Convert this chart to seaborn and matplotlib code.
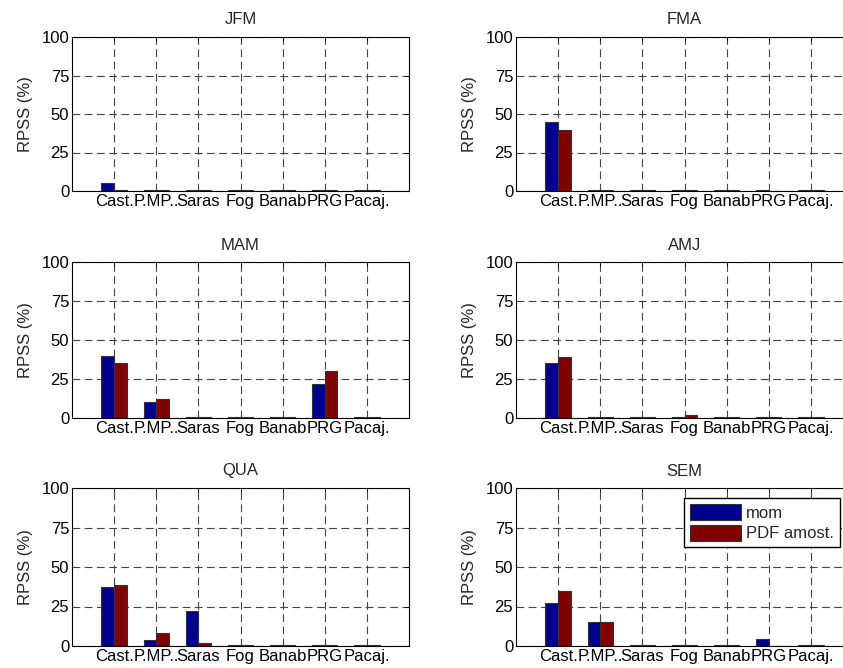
import pandas as pd
import matplotlib
matplotlib.use("Agg")
import matplotlib.pyplot as plt
import seaborn as sns

# estações e os dois métodos comparados
stations = ["Cast.", "P.MP..", "Saras", "Fog", "Banab", "PRG", "Pacaj."]
methods = ["mom", "PDF amost."]
periods = ["JFM", "FMA", "MAM", "AMJ", "QUA", "SEM"]

# RPSS (%)
rpss_mom = {
    "JFM": [5, 0.5, 0.5, 0.5, 0.5, 0.5, 0.5],
    "FMA": [45, 0.5, 0.5, 0.5, 0.5, 0.5, 0.5],
    "MAM": [40, 10, 0.5, 0.5, 0.5, 22, 0.5],
    "AMJ": [35.5, 0.5, 0.5, 0.5, 0.5, 0.5, 0.5],
    "QUA": [37.5, 3.5, 22, 0.5, 0.5, 0.5, 0.5],
    "SEM": [27, 15, 0.5, 0.5, 0.5, 4.5, 0.5],
}
rpss_pdf = {
    "JFM": [0.5, 0.5, 0.5, 0.5, 0.5, 0.5, 0.5],
    "FMA": [39.5, 0.5, 0.5, 0.5, 0.5, 0, 0.5],
    "MAM": [35.5, 12, 0.5, 0.5, 0.5, 30, 0.5],
    "AMJ": [39, 0.5, 0.5, 2, 0.5, 0.5, 0.5],
    "QUA": [38.5, 8.5, 2, 0.5, 0.5, 0.5, 0.5],
    "SEM": [35, 15, 0.5, 0.5, 0.5, 0, 0.5],
}
yticks = [0, 25, 50, 75, 100]

sns.set_theme(style="white")
plt.rcParams["font.family"] = ["Liberation Sans", "DejaVu Sans"]

W, H = 843, 668
fig = plt.figure(figsize=(W / 100, H / 100), dpi=100)

# posições dos eixos em pixels: (esquerda, topo, largura, altura)
lefts = [72, 516]
tops = [(37, 154), (262, 156), (488, 158)]

palette = {"mom": "#00008f", "PDF amost.": "#800000"}
fs = 12

for i, per in enumerate(periods):
    row, col = divmod(i, 2)
    top, hgt = tops[row]
    ax = fig.add_axes([lefts[col] / W, 1 - (top + hgt) / H, 337 / W, hgt / H])

    df = pd.DataFrame({
        "station": stations * 2,
        "RPSS": rpss_mom[per] + rpss_pdf[per],
        "method": [methods[0]] * len(stations) + [methods[1]] * len(stations),
    })
    sns.barplot(data=df, x="station", y="RPSS", hue="method", order=stations,
                hue_order=methods, palette=palette, width=0.6, saturation=1,
                edgecolor="#333333", linewidth=0.8, legend=(per == "SEM"), ax=ax)

    ax.set_xlim(-1, 7)
    ax.set_ylim(0, 100)
    ax.set_yticks(yticks)
    ax.set_title(per, fontsize=fs, pad=9)
    ax.set_xlabel("")
    ax.set_ylabel("RPSS (%)", fontsize=fs, labelpad=6)
    ax.set_axisbelow(True)
    ax.grid(True, axis="both", color="#444444", linestyle=(0, (7, 4)), linewidth=0.8)
    ax.tick_params(axis="both", direction="in", length=3, width=0.6, labelsize=fs,
                   colors="black", top=True, right=True, pad=2)
    for s in ax.spines.values():
        s.set_color("black")
        s.set_linewidth(0.8)

    if per == "SEM":
        sns.move_legend(ax, "upper right", bbox_to_anchor=(840 / W, 1 - 498 / H),
                        bbox_transform=fig.transFigure, title=None, frameon=True,
                        fontsize=fs, handlelength=3.1, handleheight=1.1,
                        handletextpad=0.3, borderpad=0.35, labelspacing=0.25,
                        borderaxespad=0, fancybox=False, framealpha=1,
                        edgecolor="black")

fig.savefig("out.png", dpi=100, facecolor="white")
